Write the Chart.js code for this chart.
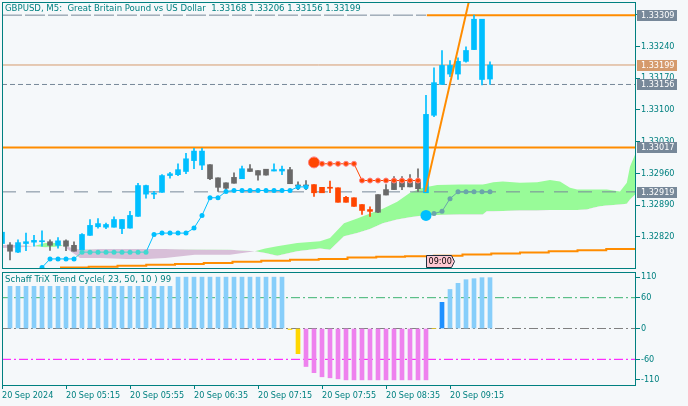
<!DOCTYPE html>
<html>
<head>
<meta charset="utf-8">
<script src="https://cdn.jsdelivr.net/npm/chart.js@4.4.1/dist/chart.umd.min.js"></script>
<style>
    html, body { margin: 0; padding: 0; background: #F5F8FA; }
    #wrap { position: relative; width: 688px; height: 406px; overflow: hidden; }
    #priceCanvas { position: absolute; left: 0; top: 0; }
    #stcCanvas { position: absolute; left: 0; top: 262px; }
</style>
</head>
<body>
<div id="wrap">
    <canvas id="priceCanvas" width="688" height="270"></canvas>
    <canvas id="stcCanvas" width="688" height="144"></canvas>
</div>
<script>
// GBPUSD M5, 20 Sep 2024, 04:35 .. 09:40 (one entry per bar)
const opens = [1.32830, 1.32802, 1.32786, 1.32805, 1.32808, 1.32809, 1.32809, 1.32801, 1.32811, 1.32801,
    1.32791, 1.32823, 1.32842, 1.32841, 1.32841, 1.32838, 1.32839, 1.32865, 1.32933, 1.32914,
    1.32918, 1.32955, 1.32957, 1.32964, 1.32988, 1.33009, 1.32979, 1.32950, 1.32939, 1.32938,
    1.32948, 1.32970, 1.32966, 1.32956, 1.32968, 1.32965, 1.32968, 1.32934, 1.32933, 1.32935,
    1.32917, 1.32928, 1.32928, 1.32896, 1.32906, 1.32891, 1.32880, 1.32874, 1.32912, 1.32924,
    1.32946, 1.32930, 1.32945, 1.32917, 1.33088, 1.33156, 1.33198, 1.33179, 1.33207, 1.33233,
    1.33300, 1.33168];
const highs = [1.32833, 1.32807, 1.32813, 1.32828, 1.32823, 1.32833, 1.32813, 1.32818, 1.32813, 1.32809,
    1.32827, 1.32858, 1.32860, 1.32850, 1.32864, 1.32858, 1.32876, 1.32938, 1.32934, 1.32920,
    1.32957, 1.32962, 1.32981, 1.33004, 1.33015, 1.33015, 1.32979, 1.32950, 1.32939, 1.32961,
    1.32976, 1.32979, 1.32966, 1.32969, 1.32981, 1.32976, 1.32973, 1.32941, 1.32944, 1.32935,
    1.32929, 1.32943, 1.32928, 1.32909, 1.32906, 1.32891, 1.32886, 1.32913, 1.32935, 1.32953,
    1.32953, 1.32957, 1.32970, 1.33132, 1.33193, 1.33231, 1.33209, 1.33215, 1.33239, 1.33309,
    1.33300, 1.33206];
const lows = [1.32803, 1.32769, 1.32785, 1.32789, 1.32799, 1.32799, 1.32790, 1.32795, 1.32789, 1.32788,
    1.32788, 1.32823, 1.32839, 1.32838, 1.32841, 1.32827, 1.32839, 1.32865, 1.32905, 1.32904,
    1.32918, 1.32949, 1.32955, 1.32959, 1.32970, 1.32968, 1.32946, 1.32920, 1.32922, 1.32938,
    1.32948, 1.32964, 1.32945, 1.32956, 1.32965, 1.32957, 1.32937, 1.32924, 1.32924, 1.32909,
    1.32917, 1.32917, 1.32896, 1.32896, 1.32887, 1.32869, 1.32865, 1.32873, 1.32912, 1.32924,
    1.32924, 1.32930, 1.32920, 1.32917, 1.33085, 1.33156, 1.33173, 1.33167, 1.33205, 1.33233,
    1.33155, 1.33156];
const closes = [1.32805, 1.32788, 1.32807, 1.32809, 1.32812, 1.32810, 1.32801, 1.32811, 1.32799, 1.32788,
    1.32825, 1.32845, 1.32849, 1.32847, 1.32858, 1.32858, 1.32867, 1.32933, 1.32914, 1.32916,
    1.32955, 1.32959, 1.32968, 1.32992, 1.33009, 1.32978, 1.32948, 1.32929, 1.32927, 1.32951,
    1.32970, 1.32964, 1.32956, 1.32969, 1.32965, 1.32969, 1.32937, 1.32932, 1.32932, 1.32917,
    1.32929, 1.32927, 1.32896, 1.32907, 1.32887, 1.32878, 1.32876, 1.32913, 1.32924, 1.32946,
    1.32930, 1.32946, 1.32926, 1.33090, 1.33160, 1.33198, 1.33179, 1.33207, 1.33231, 1.33300,
    1.33167, 1.33199];
// bar colouring state: 1 = up trend, -1 = down trend, 0 = signal bars
const barState = [1, -1, 1, 1, 1, 1, -1, 1, -1, -1,
    1, 1, 1, 1, 1, 1, 1, 1, 1, 1,
    1, 1, 1, 1, 1, 1, -1, -1, -1, -1,
    1, -1, -1, -1, 1, 1, -1, -1, -1, 0,
    0, 0, 0, 0, 0, 0, 0, -1, -1, -1,
    -1, -1, -1, 1, 1, 1, 1, 1, 1, 1,
    1, 1];

// dotted support line (blue) and resistance line (red)
const supportDots = [null, null, null, null, null, 1.32752, 1.32771, 1.32771, 1.32771, 1.32771,
    1.32786, 1.32786, 1.32786, 1.32786, 1.32786, 1.32786, 1.32786, 1.32786, 1.32786, 1.32825,
    1.32828, 1.32828, 1.32828, 1.32828, 1.32839, 1.32867, 1.32906, 1.32906, 1.32920, 1.32922,
    1.32922, 1.32922, 1.32922, 1.32922, 1.32922, 1.32922, 1.32922, 1.32930, 1.32930, null,
    null, null, null, null, null, null, null, null, null, null,
    null, null, null, 1.32867, 1.32871, 1.32876, 1.32904, 1.32919, 1.32919, 1.32919,
    1.32919, 1.32919];
const resistDots = [null, null, null, null, null, null, null, null, null, null,
    null, null, null, null, null, null, null, null, null, null,
    null, null, null, null, null, null, null, null, null, null,
    null, null, null, null, null, null, null, null, null, 1.32984,
    1.32981, 1.32981, 1.32981, 1.32981, 1.32981, 1.32944, 1.32944, 1.32944, 1.32944, 1.32944,
    1.32944, 1.32944, 1.32944, null, null, null, null, null, null, null,
    null, null];

// cloud (two spans, shifted forward past the last bar)
const cloudX = [0, 2, 3.9, 5.4, 7, 7.6, 9.75, 12.25, 15.6, 18.1, 20.4, 24.1, 28.5, 31.6, 32.9, 34.4,
    36.9, 39.75, 41, 42.75, 44.4, 46, 47.6, 49.4, 51, 52.6, 54.4, 57.25, 60.1, 60.6, 61.4, 62.6,
    64.75, 66.9, 68.5, 69.75, 71, 71.9, 73.1, 73.9, 74.75, 75.6, 77.25, 78.1, 78.5, 79.13];
const spanA = [1.32795, 1.32796, 1.32799, 1.32806, 1.32806, 1.32800, 1.32773, 1.32773, 1.32771, 1.32771,
    1.32773, 1.32780, 1.32780, 1.32788, 1.32794, 1.32799, 1.32806, 1.32810, 1.32817, 1.32850,
    1.32860, 1.32871, 1.32882, 1.32897, 1.32917, 1.32928, 1.32934, 1.32935, 1.32935, 1.32937,
    1.32940, 1.32942, 1.32939, 1.32940, 1.32945, 1.32942, 1.32928, 1.32924, 1.32924, 1.32924,
    1.32924, 1.32924, 1.32920, 1.32939, 1.32975, 1.33001];
const spanB = [1.32802, 1.32802, 1.32799, 1.32797, 1.32798, 1.32800, 1.32792, 1.32793, 1.32793, 1.32793,
    1.32793, 1.32792, 1.32791, 1.32788, 1.32784, 1.32778, 1.32788, 1.32794, 1.32791, 1.32821,
    1.32828, 1.32837, 1.32850, 1.32858, 1.32863, 1.32867, 1.32868, 1.32869, 1.32869, 1.32876,
    1.32876, 1.32877, 1.32878, 1.32878, 1.32879, 1.32879, 1.32879, 1.32879, 1.32880, 1.32884,
    1.32887, 1.32889, 1.32891, 1.32893, 1.32902, 1.32913];

// higher timeframe step line at the bottom
const stepX = [7.25, 10.84, 14.44, 18.03, 21.63, 25.22, 28.81, 32.41, 36.0, 39.59, 43.19, 46.78,
    50.38, 53.97, 57.56, 61.16, 64.75, 68.34, 71.94, 75.53, 79.13];
const stepY = [1.32752, 1.32754, 1.32756, 1.32758, 1.32760, 1.32762, 1.32765, 1.32767, 1.32769, 1.32771,
    1.32774, 1.32776, 1.32777, 1.32778, 1.32781, 1.32783, 1.32785, 1.32788, 1.32790, 1.32793, 1.32793];

// breakout trend line
const trendX = [52.9, 59.5];
const trendY = [1.32919, 1.33427];

// horizontal levels
const highLevel = 1.33309;
const bidPrice = 1.33199;
const lowLevel = 1.33156;
const breakLevel = 1.33017;
const baseLevel = 1.32919;
const signalBar = 53;
const signalTime = '09:00';

// Schaff TriX Trend Cycle values
const stc = [null, 100, 100, 100, 100, 100, 100, 100, 100, 100,
    100, 100, 100, 100, 100, 100, 100, 100, 100, 100,
    100, 100, 100, 100, 100, 100, 100, 100, 100, 100,
    100, 100, 100, 100, 100, 100, -2, -49, -74, -86,
    -94, -96, -98, -100, -100, -100, -100, -100, -100, -100,
    -100, -100, -100, -100, 0, 51, 76, 88, 95, 97,
    99, 99];
const stcLevels = [60, 0, -60];

// axes
const priceTicks = [1.32820, 1.32890, 1.32960, 1.33030, 1.33100, 1.33170, 1.33240, 1.33310];
const stcTicks = [100, 60, 0, -60, -100];
const timeTickBars = [0, 8, 16, 24, 32, 40, 48, 56];
const timeLabels = ['20 Sep 2024', '20 Sep 05:15', '20 Sep 05:55', '20 Sep 06:35',
    '20 Sep 07:15', '20 Sep 07:55', '20 Sep 08:35', '20 Sep 09:15'];

const TEAL = '#008080';
const BG = '#F5F8FA';
const FONT = "'DejaVu Sans Condensed', 'Liberation Sans', sans-serif";
const X_MAX = 79.125;

const BLUE = '#00BFFF';
const candleColor = i => barState[i] === 1 ? BLUE : barState[i] === 0 ? '#FF4500' : '#696969';
const hline = (y, x0 = 0, x1 = X_MAX) => [{ x: x0, y }, { x: x1, y }];
const series = arr => arr.map((y, i) => ({ x: i, y }));

// cloud spans at a fractional bar position
function cloudAt(x) {
    for (let i = 1; i < cloudX.length; i++) {
        if (x <= cloudX[i]) {
            const t = (x - cloudX[i - 1]) / (cloudX[i] - cloudX[i - 1]);
            return [spanA[i - 1] + t * (spanA[i] - spanA[i - 1]), spanB[i - 1] + t * (spanB[i] - spanB[i - 1])];
        }
    }
    return null;
}
// dots look tinted where they sit inside the cloud
function dotTone(x, v) {
    const c = cloudAt(x);
    if (!c || v == null) return BLUE;
    if (v < Math.min(c[0], c[1]) || v > Math.max(c[0], c[1])) return BLUE;
    return c[0] > c[1] ? '#6AA6AA' : '#40D8D0';
}
const segStart = (arr, i) => arr[i] != null && (i === 0 || arr[i - 1] == null) && i > 10;

const lineBase = { type: 'line', pointRadius: 0, borderWidth: 1, fill: false, spanGaps: false };

// keep the plot frame exactly where the layout padding puts it
// (no auto padding for the dots, no half-label reserve on the price axis)
const axisFont = { family: FONT, size: 9, lineHeight: 0.3 };
const noLabelPadding = s => { s.paddingTop = 0; s.paddingBottom = 0; };

const priceDecor = {
    id: 'priceDecor',
    afterDatasetsDraw(chart) {
        const { ctx, chartArea: a, scales: { x } } = chart;
        ctx.save();
        ctx.strokeStyle = TEAL;
        ctx.lineWidth = 1;
        ctx.strokeRect(a.left + 0.5, a.top + 0.5, a.right - a.left, a.bottom - a.top);

        ctx.font = `9.5px ${FONT}`;
        ctx.fillStyle = TEAL;
        ctx.textBaseline = 'middle';
        ctx.textAlign = 'left';
        const last = opens.length - 1;
        const ohlc = [opens[last], highs[last], lows[last], closes[last]].map(v => v.toFixed(5)).join(' ');
        ctx.fillText('GBPUSD, M5:  Great Britain Pound vs US Dollar  ' + ohlc, a.left + 3, a.top + 6.5);

        // time marker of the signal bar
        ctx.font = `9px ${FONT}`;
        const sx = Math.round(x.getPixelForValue(signalBar)) + 0.5;
        const b = a.bottom - 0.5, t = b - 12;
        ctx.beginPath();
        ctx.moveTo(sx, t);
        ctx.lineTo(sx + 25, t);
        ctx.lineTo(sx + 28, (t + b) / 2);
        ctx.lineTo(sx + 25, b);
        ctx.lineTo(sx, b);
        ctx.closePath();
        ctx.fillStyle = '#FFC8D2';
        ctx.fill();
        ctx.strokeStyle = '#203040';
        ctx.stroke();
        ctx.fillStyle = '#000';
        ctx.fillText(signalTime, sx + 2, (t + b) / 2 + 0.5);
        ctx.restore();
    },
    afterDraw(chart) {
        const { ctx, chartArea: a, scales: { y } } = chart;
        const boxes = [[highLevel, '#778899'], [bidPrice, '#D59A6C'], [lowLevel, '#778899'],
            [breakLevel, '#778899'], [baseLevel, '#778899']];
        ctx.save();
        ctx.font = `9px ${FONT}`;
        ctx.textBaseline = 'middle';
        ctx.textAlign = 'left';
        boxes.forEach(([v, c]) => {
            const py = Math.round(y.getPixelForValue(v));
            ctx.fillStyle = c;
            ctx.fillRect(a.right + 2, py - 5, 40, 11);
            ctx.fillStyle = '#FFFFFF';
            ctx.fillText(v.toFixed(5), a.right + 6, py + 0.5);
        });
        ctx.restore();
    }
};

new Chart(document.getElementById('priceCanvas'), {
    type: 'bar',
    data: {
        datasets: [
            {
                ...lineBase, data: cloudX.map((x, i) => ({ x, y: spanA[i] })), borderColor: 'transparent',
                fill: { target: '+1', above: '#98FB98', below: '#D8BFD8' }, order: 40
            },
            { ...lineBase, data: cloudX.map((x, i) => ({ x, y: spanB[i] })), borderColor: 'transparent', order: 41 },
            {
                ...lineBase, data: stepX.map((x, i) => ({ x, y: stepY[i] })), borderColor: '#FF8C00',
                borderWidth: 2, stepped: 'before', order: 35
            },
            { ...lineBase, data: hline(highLevel, 0, signalBar), borderColor: '#778899', borderDash: [20, 3], order: 30 },
            { ...lineBase, data: hline(highLevel, signalBar + 0.1), borderColor: '#FF8C00', borderWidth: 2, order: 29 },
            { ...lineBase, data: hline(bidPrice), borderColor: '#D59A6C', order: 30 },
            { ...lineBase, data: hline(lowLevel), borderColor: '#778899', borderDash: [5, 3], order: 30 },
            { ...lineBase, data: hline(breakLevel), borderColor: '#FF8C00', borderWidth: 2, order: 29 },
            { ...lineBase, data: hline(baseLevel), borderColor: '#778899', borderDash: [14, 10], order: 30 },
            {
                type: 'bar', data: opens.map((_, i) => ({ x: i, y: [lows[i], highs[i]] })),
                backgroundColor: opens.map((_, i) => candleColor(i)), barThickness: 1, minBarLength: 1,
                grouped: false, order: 11
            },
            {
                type: 'bar', data: opens.map((_, i) => ({ x: i, y: [opens[i], closes[i]] })),
                backgroundColor: opens.map((_, i) => candleColor(i)), barThickness: 5, minBarLength: 1,
                grouped: false, order: 10
            },
            {
                ...lineBase, data: trendX.map((x, i) => ({ x, y: trendY[i] })), borderColor: '#FF8C00',
                borderWidth: 2, order: 5
            },
            {
                ...lineBase, data: series(supportDots), borderColor: BLUE,
                segment: { borderColor: c => dotTone(c.p1DataIndex, supportDots[c.p1DataIndex]) },
                pointRadius: c => segStart(supportDots, c.dataIndex) ? 5.5 : 2.5,
                pointBackgroundColor: c => dotTone(c.dataIndex, supportDots[c.dataIndex]),
                pointBorderWidth: 0, order: 3
            },
            {
                ...lineBase, data: series(resistDots), borderColor: '#FF4500',
                pointRadius: c => segStart(resistDots, c.dataIndex) ? 5.5 : 2.5,
                pointBackgroundColor: '#FF4500', pointBorderColor: '#FF7F7F', pointBorderWidth: 1, order: 3
            }
        ]
    },
    options: {
        responsive: false,
        animation: false,
        events: [],
        layout: { autoPadding: false, padding: { left: 2, top: 2, right: 0, bottom: 2 } },
        plugins: { legend: { display: false }, tooltip: { enabled: false } },
        scales: {
            x: { type: 'linear', min: 0, max: X_MAX, offset: false, display: false },
            y: {
                position: 'right', min: 1.32751, max: 1.33338,
                afterBuildTicks: s => { s.ticks = priceTicks.map(v => ({ value: v })); },
                afterFit: s => { s.width = 53; noLabelPadding(s); },
                grid: { drawOnChartArea: false, tickLength: 5, color: TEAL },
                border: { display: true, color: TEAL },
                ticks: {
                    color: TEAL, font: axisFont, padding: 1, autoSkip: false,
                    callback: v => v.toFixed(5)
                }
            }
        }
    },
    plugins: [priceDecor]
});

const stcColor = v => v >= 60 ? '#87CEFA' : v > 0 ? '#1E90FF' : v > -60 ? '#FFD700' : '#EE82EE';

const stcDecor = {
    id: 'stcDecor',
    afterDatasetsDraw(chart) {
        const { ctx, chartArea: a } = chart;
        ctx.save();
        ctx.font = `9.5px ${FONT}`;
        ctx.textBaseline = 'middle';
        ctx.textAlign = 'left';
        const label = 'Schaff TriX Trend Cycle( 23, 50, 10 ) ' + stc[stc.length - 1];
        const w = ctx.measureText(label).width;
        ctx.fillStyle = BG;
        ctx.fillRect(a.left + 1, a.top + 1, w + 4, 13);
        ctx.fillStyle = TEAL;
        ctx.fillText(label, a.left + 3, a.top + 8);
        ctx.strokeStyle = TEAL;
        ctx.lineWidth = 1;
        ctx.strokeRect(a.left + 0.5, a.top + 0.5, a.right - a.left, a.bottom - a.top);
        ctx.restore();
    }
};

const levelColors = ['#3CB371', '#808080', '#FF00FF'];

new Chart(document.getElementById('stcCanvas'), {
    type: 'bar',
    data: {
        datasets: [
            ...stcLevels.map((v, i) => ({
                ...lineBase, data: hline(v), borderColor: levelColors[i], borderDash: [9, 3, 2, 3], order: 20
            })),
            {
                type: 'bar', data: series(stc), backgroundColor: stc.map(v => stcColor(v)),
                barThickness: 4, grouped: false, order: 1
            }
        ]
    },
    options: {
        responsive: false,
        animation: false,
        events: [],
        layout: { autoPadding: false, padding: { left: 2, top: 10, right: 0, bottom: 0 } },
        plugins: { legend: { display: false }, tooltip: { enabled: false } },
        scales: {
            x: {
                type: 'linear', min: 0, max: X_MAX, offset: false, position: 'bottom',
                afterBuildTicks: s => { s.ticks = timeTickBars.map(v => ({ value: v })); },
                afterFit: s => { s.height = 21; },
                grid: { drawOnChartArea: false, offset: false, tickLength: 4, color: TEAL },
                border: { display: true, color: TEAL },
                ticks: {
                    align: 'start', color: TEAL, font: { family: FONT, size: 9 }, padding: 1,
                    maxRotation: 0, autoSkip: false,
                    callback: (v, i) => timeLabels[i]
                }
            },
            y: {
                position: 'right', min: -110, max: 110,
                afterBuildTicks: s => { s.ticks = stcTicks.map(v => ({ value: v })); },
                afterFit: s => { s.width = 53; noLabelPadding(s); },
                grid: { drawOnChartArea: false, tickLength: 5, color: TEAL },
                border: { display: true, color: TEAL },
                ticks: {
                    color: TEAL, font: axisFont, padding: 1, autoSkip: false,
                    // the terminal pins the panel bound labels (110 / -110) just inside the frame
                    callback: v => v === 100 ? '110' : v === -100 ? '-110' : String(v)
                }
            }
        }
    },
    plugins: [stcDecor]
});
</script>
</body>
</html>
